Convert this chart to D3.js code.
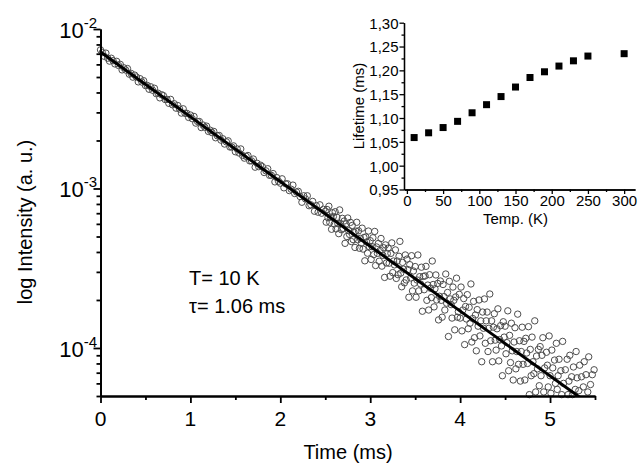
<!DOCTYPE html>
<html>
<head>
<meta charset="utf-8">
<script src="https://cdn.jsdelivr.net/npm/d3@7"></script>
<style>
  body { margin: 0; background: #fff; }
  text { font-family: Arial, "Liberation Sans", sans-serif; fill: #000; }
</style>
</head>
<body>
<svg id="svg" width="641" height="464"></svg>
<script>
// decay curve, T = 10 K (time in ms, intensity in units of 1e-5 a.u.)
const decayTime = [
  0,0.02,0.04,0.06,0.08,0.1,0.12,0.14,0.16,0.18,
  0.2,0.22,0.24,0.26,0.28,0.3,0.32,0.34,0.36,0.38,
  0.4,0.42,0.44,0.46,0.48,0.5,0.52,0.54,0.56,0.58,
  0.6,0.62,0.64,0.66,0.68,0.7,0.72,0.74,0.76,0.78,
  0.8,0.82,0.84,0.86,0.88,0.9,0.92,0.94,0.96,0.98,
  1,1.02,1.04,1.06,1.08,1.1,1.12,1.14,1.16,1.18,
  1.2,1.22,1.24,1.26,1.28,1.3,1.32,1.34,1.36,1.38,
  1.4,1.42,1.44,1.46,1.48,1.5,1.52,1.54,1.56,1.58,
  1.6,1.62,1.64,1.66,1.68,1.7,1.72,1.74,1.76,1.78,
  1.8,1.82,1.84,1.86,1.88,1.9,1.92,1.94,1.96,1.98,
  2,2.02,2.04,2.06,2.08,2.1,2.12,2.14,2.16,2.18,
  2.2,2.22,2.24,2.26,2.28,2.3,2.32,2.34,2.36,2.38,
  2.4,2.42,2.44,2.46,2.48,
  2.5,2.51,2.52,2.53,2.54,2.55,2.56,2.57,2.58,2.59,
  2.6,2.61,2.62,2.63,2.64,2.65,2.66,2.67,2.68,2.69,
  2.7,2.71,2.72,2.73,2.74,2.75,2.76,2.77,2.78,2.79,
  2.8,2.81,2.82,2.83,2.84,2.85,2.86,2.87,2.88,2.89,
  2.9,2.91,2.92,2.93,2.94,2.95,2.96,2.97,2.98,2.99,
  3,3.01,3.02,3.03,3.04,3.05,3.06,3.07,3.08,3.09,
  3.1,3.11,3.12,3.13,3.14,3.15,3.16,3.17,3.18,3.19,
  3.2,3.21,3.22,3.23,3.24,3.25,3.26,3.27,3.28,3.29,
  3.3,3.31,3.32,3.33,3.34,3.35,3.36,3.37,3.38,3.39,
  3.4,3.41,3.42,3.43,3.44,3.45,3.46,3.47,3.48,3.49,
  3.5,3.51,3.52,3.53,3.54,3.55,3.56,3.57,3.58,3.59,
  3.6,3.61,3.62,3.63,3.64,3.65,3.66,3.67,3.68,3.69,
  3.7,3.71,3.72,3.73,3.74,3.75,3.76,3.77,3.78,3.79,
  3.8,3.81,3.82,3.83,3.84,3.85,3.86,3.87,3.88,3.89,
  3.9,3.91,3.92,3.93,3.94,3.95,3.96,3.97,3.98,3.99,
  4,4.01,4.02,4.03,4.04,4.05,4.06,4.07,4.08,4.09,
  4.1,4.11,4.12,4.13,4.14,4.15,4.16,4.17,4.18,4.19,
  4.2,4.21,4.22,4.23,4.24,4.25,4.26,4.27,4.28,4.29,
  4.3,4.31,4.32,4.33,4.34,4.35,4.36,4.37,4.38,4.39,
  4.4,4.41,4.42,4.43,4.44,4.45,4.46,4.47,4.48,4.49,
  4.5,4.51,4.52,4.53,4.54,4.55,4.56,4.57,4.58,4.59,
  4.6,4.61,4.62,4.63,4.64,4.65,4.66,4.67,4.68,4.69,
  4.7,4.71,4.72,4.73,4.74,4.75,4.76,4.77,4.78,4.79,
  4.8,4.81,4.82,4.83,4.84,4.85,4.86,4.87,4.88,4.89,
  4.9,4.91,4.92,4.93,4.94,4.95,4.96,4.97,4.98,4.99,
  5,5.01,5.02,5.03,5.04,5.05,5.06,5.07,5.08,5.09,
  5.1,5.11,5.12,5.13,5.14,5.15,5.16,5.17,5.18,5.19,
  5.2,5.21,5.22,5.23,5.24,5.25,5.26,5.27,5.28,5.29,
  5.3,5.31,5.32,5.33,5.34,5.35,5.36,5.37,5.38,5.39,
  5.4,5.41,5.42,5.43,5.44,5.45,5.46,5.47,5.48,5.49,5.5
]
const decayIntensity = [
  740,712,675,706,656,629,656,633,604,627,
  591,600,554,571,553,565,521,527,499,514,
  500,466,488,465,474,442,443,419,434,413,
  425,393,396,370,387,382,361,362,342,362,
  335,340,319,331,315,297,316,296,296,279,
  289,274,283,257,263,263,241,250,242,246,
  228,232,224,228,208,214,215,201,205,190,
  196,199,182,182,185,170,177,167,177,161,
  155,159,161,149,149,153,136,144,137,140,
  137,126,129,133,121,121,124,110,117,111,
  108,115,101,107,107,97,99,105,93,95,
  96,89,82,90,86,90,78,79,83,72,
  78,71,79,70,74,
  71.9,61.5,73.8,65.6,77.4,61.4,66.1,55.5,70.5,66.7,
  59.9,71.5,55.8,66.0,60.2,52.1,73.4,60.3,55.1,65.0,
  56.2,62.5,45.3,59.9,50.0,65.3,54.4,51.5,61.3,46.5,
  58.7,47.8,53.1,42.7,54.0,61.4,47.7,54.3,42.2,48.7,
  45.4,56.4,41.7,49.3,35.2,49.7,46.2,39.3,54.1,43.2,
  47.1,35.9,43.2,49.1,38.5,53.8,32.9,43.0,39.2,45.2,
  35.0,40.9,48.6,32.6,38.1,42.5,27.7,44.3,34.1,39.1,
  42.3,34.0,28.2,39.2,45.6,29.7,35.1,33.2,41.2,27.3,
  35.1,28.8,37.6,46.6,29.5,24.2,34.4,31.2,25.6,38.3,
  26.7,36.1,31.0,20.8,33.3,27.5,37.9,22.8,30.4,25.5,
  32.4,20.8,26.7,38.3,22.8,28.0,25.2,32.1,17.0,28.1,
  23.2,28.3,32.5,19.9,24.8,17.3,28.8,23.7,20.7,35.1,
  25.0,18.1,23.5,28.7,20.0,25.4,15.0,21.1,26.3,19.9,
  15.6,25.0,21.0,17.3,29.1,19.1,22.3,11.8,26.2,20.3,
  18.7,15.4,24.1,19.9,13.0,20.9,27.4,15.6,16.9,21.7,
  15.4,24.1,12.8,17.3,20.4,10.5,18.2,15.2,21.6,13.2,
  18.0,14.3,25.2,10.9,15.3,19.6,11.6,16.1,9.6,17.4,
  13.7,20.0,11.9,14.8,8.2,16.8,13.3,20.3,10.7,14.8,
  16.8,9.5,13.3,21.8,11.1,14.8,8.2,13.5,16.4,11.2,
  9.7,13.2,17.6,8.3,11.3,13.8,10.3,6.7,14.6,11.7,
  13.7,9.2,10.8,17.1,7.2,12.0,8.1,14.3,9.6,6.3,
  10.9,13.4,7.4,9.5,16.3,7.9,11.1,6.2,9.5,13.5,
  7.9,11.0,6.3,11.5,9.3,8.0,13.6,5.1,9.8,6.7,
  11.7,8.2,6.9,14.8,5.3,8.9,7.4,9.8,5.8,10.2,
  6.7,9.0,11.6,5.3,7.5,3.9,9.4,7.8,5.7,11.9,
  6.7,5.2,9.7,7.5,4.1,8.4,6.0,10.7,5.5,6.7,
  8.5,4.2,7.2,5.1,11.0,6.0,4.4,7.3,3.4,8.5,
  5.1,6.2,9.0,3.8,6.6,5.1,7.6,4.3,5.5,9.5,
  6.5,4.0,5.4,7.8,4.6,6.6,3.2,5.7,8.2,4.6,
  6.8,4.0,5.3,8.8,3.3,5.9,4.6,6.8,3.5,7.3,4.8
]
const intensityUnit = 1e-5

// single exponential fit, tau = 1.06 ms (end points)
const fitTime = [0, 5.5]
const fitIntensity = [7.18e-3, 4.19e-5]

const mainXTicks = [0, 1, 2, 3, 4, 5]
const mainXMinor = [0.5, 1.5, 2.5, 3.5, 4.5, 5.5]
const mainYTicks = [1e-2, 1e-3, 1e-4]
const mainYExp = ['-2', '-3', '-4']

// inset: lifetime vs temperature
const temps = [10, 30, 50, 70, 90, 110, 130, 150, 170, 190, 210, 230, 250, 300]
const lifetimes = [1.059, 1.069, 1.080, 1.093, 1.111, 1.128, 1.145, 1.165, 1.185, 1.197, 1.209, 1.220, 1.230, 1.235]
const insetXTicks = [0, 50, 100, 150, 200, 250, 300]
const insetXMinor = [25, 75, 125, 175, 225, 275]
const insetYTicks = [0.95, 1.00, 1.05, 1.10, 1.15, 1.20, 1.25, 1.30]
const insetYMinor = [0.975, 1.025, 1.075, 1.125, 1.175, 1.225, 1.275]

const svg = d3.select('#svg')

const data = decayTime.map((t, i) => ({ t: t, v: decayIntensity[i] * intensityUnit }))

// ---------- main plot ----------
const x = d3.scaleLinear().domain([0, 5.5]).range([100.5, 595])
const y = d3.scaleLog().domain([5e-5, 1e-2]).range([396, 29])

svg.append('clipPath').attr('id', 'plotClip')
  .append('rect')
  .attr('x', x.range()[0]).attr('y', y.range()[1])
  .attr('width', x.range()[1] - x.range()[0])
  .attr('height', y.range()[0] - y.range()[1])

svg.append('g')
  .selectAll('circle')
  .data(data.filter(d => d.v >= y.domain()[0]))
  .enter()
  .append('circle')
  .attr('cx', d => x(d.t))
  .attr('cy', d => y(d.v))
  .attr('r', 3.2)
  .attr('fill', 'none')
  .attr('stroke', '#4d4d4d')
  .attr('stroke-width', 1)

svg.append('path')
  .datum(fitTime.map((t, i) => [t, fitIntensity[i]]))
  .attr('clip-path', 'url(#plotClip)')
  .attr('d', d3.line().x(d => x(d[0])).y(d => y(d[1])))
  .attr('fill', 'none')
  .attr('stroke', '#000')
  .attr('stroke-width', 3)

function styleAxis(g, w) {
  g.select('.domain').attr('stroke-width', w).attr('stroke', '#000')
  g.selectAll('.tick line').attr('stroke-width', w).attr('stroke', '#000')
}

const yMinor = y.ticks().filter(v => !mainYTicks.some(m => Math.abs(m - v) / m < 1e-6))
svg.append('g').attr('transform', `translate(${x.range()[0]},0)`)
  .call(d3.axisLeft(y).tickValues(yMinor).tickSize(4).tickSizeOuter(0).tickFormat(''))
  .call(g => styleAxis(g, 1.8))
svg.append('g').attr('transform', `translate(${x.range()[0]},0)`)
  .call(d3.axisLeft(y).tickValues(mainYTicks).tickSize(7).tickSizeOuter(0).tickFormat(''))
  .call(g => styleAxis(g, 1.8))

svg.append('g').attr('transform', `translate(0,${y.range()[0]})`)
  .call(d3.axisBottom(x).tickValues(mainXMinor).tickSize(4).tickSizeOuter(0).tickFormat(''))
  .call(g => styleAxis(g, 1.8))
svg.append('g').attr('transform', `translate(0,${y.range()[0]})`)
  .call(d3.axisBottom(x).tickValues(mainXTicks).tickSize(7).tickSizeOuter(0).tickFormat(''))
  .call(g => styleAxis(g, 1.8))

svg.append('g')
  .selectAll('text')
  .data(mainXTicks)
  .enter()
  .append('text')
  .attr('x', d => x(d))
  .attr('y', 426)
  .attr('text-anchor', 'middle')
  .attr('font-size', 21)
  .text(d => d)

const yLab = svg.append('g')
  .selectAll('text')
  .data(mainYTicks)
  .enter()
  .append('text')
  .attr('x', 97)
  .attr('y', d => y(d) + 9)
  .attr('text-anchor', 'end')
  .attr('font-size', 22)
yLab.append('tspan').text('10')
yLab.append('tspan').attr('dy', -10).attr('font-size', 15).text((d, i) => mainYExp[i])

svg.append('text')
  .attr('x', 348).attr('y', 459)
  .attr('text-anchor', 'middle')
  .attr('font-size', 20)
  .text('Time (ms)')

svg.append('text')
  .attr('transform', 'translate(32,222) rotate(-90)')
  .attr('text-anchor', 'middle')
  .attr('font-size', 20)
  .text('log Intensity (a. u.)')

svg.append('text').attr('x', 189).attr('y', 285).attr('font-size', 20).text('T= 10 K')
svg.append('text').attr('x', 189).attr('y', 313).attr('font-size', 20).text('\u03c4= 1.06 ms')

// ---------- inset ----------
const ix = d3.scaleLinear().domain([-4, 315]).range([404, 635])
const iy = d3.scaleLinear().domain([0.95, 1.30]).range([189.5, 22.7])

svg.append('g').attr('transform', `translate(${ix.range()[0]},0)`)
  .call(d3.axisLeft(iy).tickValues(insetYMinor).tickSize(2.5).tickSizeOuter(0).tickFormat(''))
  .call(g => styleAxis(g, 1.3))
svg.append('g').attr('transform', `translate(${ix.range()[0]},0)`)
  .call(d3.axisLeft(iy).tickValues(insetYTicks).tickSize(4.5).tickSizeOuter(0)
    .tickFormat(d => d3.format('.2f')(d).replace('.', ',')))
  .call(g => styleAxis(g, 1.3))
  .call(g => g.selectAll('.tick text')
    .attr('font-size', 15).attr('font-family', 'Arial, "Liberation Sans", sans-serif')
    .attr('fill', '#000').attr('x', -5.5).attr('dy', '0.36em'))

svg.append('g').attr('transform', `translate(0,${iy.range()[0]})`)
  .call(d3.axisBottom(ix).tickValues(insetXMinor).tickSize(2.5).tickSizeOuter(0).tickFormat(''))
  .call(g => styleAxis(g, 1.3))
svg.append('g').attr('transform', `translate(0,${iy.range()[0]})`)
  .call(d3.axisBottom(ix).tickValues(insetXTicks).tickSize(4.5).tickSizeOuter(0))
  .call(g => styleAxis(g, 1.3))
  .call(g => g.selectAll('.tick text')
    .attr('font-size', 15).attr('font-family', 'Arial, "Liberation Sans", sans-serif')
    .attr('fill', '#000').attr('y', 6).attr('dy', '0.71em'))

svg.append('g')
  .selectAll('rect')
  .data(temps)
  .enter()
  .append('rect')
  .attr('x', d => ix(d) - 3.5)
  .attr('y', (d, i) => iy(lifetimes[i]) - 3.5)
  .attr('width', 7)
  .attr('height', 7)
  .attr('fill', '#000')

svg.append('text')
  .attr('x', ix(150)).attr('y', 224)
  .attr('text-anchor', 'middle')
  .attr('font-size', 15)
  .text('Temp. (K)')

svg.append('text')
  .attr('transform', 'translate(364,106) rotate(-90)')
  .attr('text-anchor', 'middle')
  .attr('font-size', 15)
  .text('Lifetime (ms)')
</script>
</body>
</html>
